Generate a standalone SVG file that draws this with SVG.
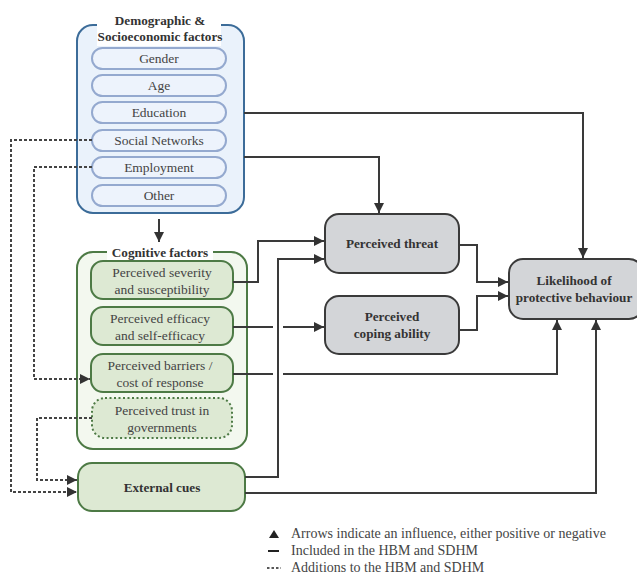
<svg xmlns="http://www.w3.org/2000/svg" width="637" height="574" viewBox="0 0 637 574">
<defs>
<marker id="ah" viewBox="0 0 10 10" refX="10" refY="5" markerWidth="10" markerHeight="10" markerUnits="userSpaceOnUse" orient="auto">
<path d="M0,0 L10,5 L0,10 z" fill="#333"/>
</marker>
</defs>
<style>
text{font-family:"Liberation Serif","DejaVu Serif",serif;fill:#444;text-anchor:middle}
.t{font-size:13.5px}
.b{font-size:13.2px;font-weight:bold;fill:#333}
.pill{fill:#edf3fc;stroke:#94a9cf;stroke-width:2}
.grp-blue{fill:#eaf2fb;stroke:#3c6c99;stroke-width:2}
.grp-green{fill:#f3f8ef;stroke:#4d7a45;stroke-width:2}
.gbox{fill:#dde9d3;stroke:#4d7a45;stroke-width:2}
.gray{fill:#d3d5d8;stroke:#3a3a3a;stroke-width:2}
.c{fill:none;stroke:#3a3a3a;stroke-width:2}
.d{fill:none;stroke:#444;stroke-width:2;stroke-dasharray:3 2}
.leg{font-size:14px;text-anchor:start}
</style>
<rect width="637" height="574" fill="#fff"/>

<g id="demographic">
<rect class="grp-blue" x="77" y="25" width="167" height="188" rx="16"/>
<rect x="97" y="10" width="124" height="36" fill="#fff"/>
<text class="b" x="160" y="25">Demographic &amp;</text>
<text class="b" x="160" y="41">Socioeconomic factors</text>
</g>
<g id="gender"><rect class="pill" x="92" y="48" width="134" height="21" rx="10.5"/><text class="t" x="159" y="63">Gender</text></g>
<g id="age"><rect class="pill" x="92" y="75" width="134" height="21" rx="10.5"/><text class="t" x="159" y="90">Age</text></g>
<g id="education"><rect class="pill" x="92" y="102" width="134" height="21" rx="10.5"/><text class="t" x="159" y="117">Education</text></g>
<g id="social"><rect class="pill" x="92" y="130" width="134" height="21" rx="10.5"/><text class="t" x="159" y="145">Social Networks</text></g>
<g id="employment"><rect class="pill" x="92" y="157" width="134" height="21" rx="10.5"/><text class="t" x="159" y="172">Employment</text></g>
<g id="other"><rect class="pill" x="92" y="185" width="134" height="21" rx="10.5"/><text class="t" x="159" y="200">Other</text></g>

<g id="cognitive">
<rect class="grp-green" x="77" y="252" width="170" height="197" rx="16"/>
<rect x="107" y="244" width="106" height="16" fill="#fff"/>
<text class="b" x="160" y="257">Cognitive factors</text>
</g>
<g id="severity"><rect class="gbox" x="91" y="261" width="142" height="38" rx="12"/><text class="t" x="162" y="277">Perceived severity</text><text class="t" x="162" y="294">and susceptibility</text></g>
<g id="efficacy"><rect class="gbox" x="91" y="307" width="142" height="38" rx="12"/><text class="t" x="160" y="323">Perceived efficacy</text><text class="t" x="160" y="340">and self-efficacy</text></g>
<g id="barriers"><rect class="gbox" x="91" y="354" width="142" height="38" rx="12"/><text class="t" x="160" y="370">Perceived barriers /</text><text class="t" x="160" y="387">cost of response</text></g>
<g id="trust"><rect class="gbox" x="92" y="398" width="140" height="40" rx="13" stroke-dasharray="2 2.5"/><text class="t" x="162" y="415">Perceived trust in</text><text class="t" x="162" y="432">governments</text></g>

<g id="external"><rect class="gbox" x="78" y="463" width="167" height="48" rx="14"/><text class="b" x="162" y="492">External cues</text></g>

<g id="threat"><rect class="gray" x="325" y="214" width="134" height="59" rx="14"/><text class="b" x="392" y="248">Perceived threat</text></g>
<g id="coping"><rect class="gray" x="325" y="296" width="134" height="58" rx="14"/><text class="b" x="392" y="321">Perceived</text><text class="b" x="392" y="338">coping ability</text></g>
<g id="likelihood"><rect class="gray" x="509" y="259" width="134" height="60" rx="14"/><text class="b" x="574" y="285">Likelihood of</text><text class="b" x="574" y="302">protective behaviour</text></g>

<g id="connectors">
<path class="c" d="M159,219 V242" marker-end="url(#ah)"/>
<path class="c" d="M244,113 H583 V258" marker-end="url(#ah)"/>
<path class="c" d="M244,157 H379 V213" marker-end="url(#ah)"/>
<path class="c" d="M233,282 H258 V241 H324" marker-end="url(#ah)"/>
<path class="c" d="M245,477 H278 V259 H324" marker-end="url(#ah)"/>
<path class="c" d="M233,327 H273 M283,327 H324" marker-end="url(#ah)"/>
<path class="c" d="M233,374 H273 M283,374 H557 V320" marker-end="url(#ah)"/>
<path class="c" d="M245,493 H596 V320" marker-end="url(#ah)"/>
<path class="c" d="M459,245 H477 V282 H508" marker-end="url(#ah)"/>
<path class="c" d="M459,330 H477 V296 H508" marker-end="url(#ah)"/>
<path class="d" d="M92,140 H11 V492 H77" marker-end="url(#ah)"/>
<path class="d" d="M92,167 H34 V379 H90" marker-end="url(#ah)"/>
<path class="d" d="M92,418 H37 V480 H77" marker-end="url(#ah)"/>
</g>

<g id="legend">
<path d="M269,538 L274,530 L279,538 z" fill="#222"/>
<text class="leg" x="291" y="538">Arrows indicate an influence, either positive or negative</text>
<path d="M268,551 H279" stroke="#222" stroke-width="2"/>
<text class="leg" x="291" y="555">Included in the HBM and SDHM</text>
<path d="M267,568 H281" stroke="#222" stroke-width="1.5" stroke-dasharray="2.5 2"/>
<text class="leg" x="291" y="572">Additions to the HBM and SDHM</text>
</g>
</svg>
